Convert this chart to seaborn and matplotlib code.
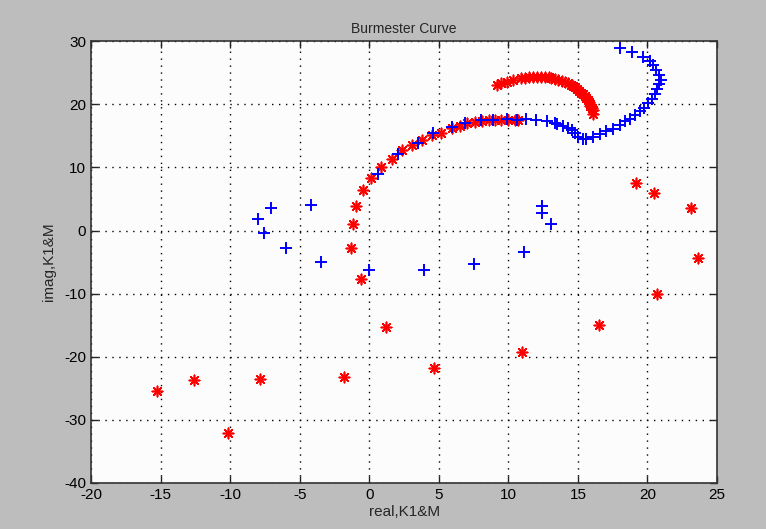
import matplotlib
matplotlib.use("Agg")
import matplotlib.pyplot as plt
import seaborn as sns
import pandas as pd

# Burmester curve points
red_x = [-1.2, -1.3, -0.6, 1.2, -15.3, -12.6, -7.85, -1.8, 4.66, -10.15, 11.0,
         19.2, 20.5, 23.1, 23.6, 20.7, 16.5,
         -0.97, -0.47, 0.13, 0.85, 1.66, 2.38, 3.1, 3.82, 4.54, 5.14, 5.93, 6.5,
         7.0, 7.6, 8.1, 8.6, 9.05, 9.5, 10.0, 10.5, 10.7,
         9.16, 9.5, 9.88, 10.36, 10.9, 11.2, 11.5, 11.8, 12.04, 12.35, 12.64, 12.9,
         13.1, 13.35, 13.6, 13.85, 14.1, 14.3, 14.5, 14.65, 14.8, 14.95, 15.1,
         15.25, 15.35, 15.5, 15.6, 15.7, 15.8, 15.85, 15.9, 16.0, 16.05, 16.1]
red_y = [1.0, -2.8, -7.7, -15.3, -25.4, -23.7, -23.5, -23.2, -21.8, -32.1, -19.2,
         7.5, 5.9, 3.5, -4.4, -10.1, -15.0,
         3.87, 6.4, 8.35, 10.0, 11.4, 12.7, 13.5, 14.3, 15.2, 15.5, 16.2, 16.6,
         17.0, 17.2, 17.4, 17.5, 17.5, 17.6, 17.6, 17.6, 17.6,
         23.1, 23.35, 23.55, 23.8, 24.1, 24.2, 24.3, 24.35, 24.4, 24.4, 24.4, 24.3,
         24.2, 24.05, 23.9, 23.75, 23.55, 23.35, 23.1, 22.9, 22.7, 22.4, 22.1,
         21.85, 21.6, 21.3, 21.0, 20.7, 20.4, 20.05, 19.7, 19.4, 19.1, 18.4]

blue_x = [-8.0, -7.1, -7.6, -6.0, -4.2, -3.5, 0.0, 3.9, 7.5, 11.1, 12.4, 12.4, 13.1,
          0.6, 2.05, 3.5, 4.6, 5.93, 6.9, 8.0, 8.9, 9.9, 10.6, 11.3, 12.0, 12.75,
          13.35, 13.5, 13.95, 14.3, 14.55, 14.8, 15.04, 15.35, 15.6, 16.06, 16.6,
          17.0, 17.5, 18.0, 18.4, 18.75, 19.1, 19.47, 19.75, 20.07, 20.3, 20.55,
          20.7, 20.85, 20.95, 20.8, 20.6, 20.4, 20.2, 19.7, 18.9, 18.0]
blue_y = [1.8, 3.5, -0.4, -2.8, 4.0, -5.0, -6.2, -6.3, -5.3, -3.4, 3.9, 2.8, 1.0,
          8.9, 12.1, 13.95, 15.4, 16.4, 17.1, 17.5, 17.6, 17.75, 17.6, 17.75, 17.6,
          17.4, 17.1, 16.85, 16.5, 16.3, 15.9, 15.4, 14.85, 14.5, 14.5, 14.85, 15.3,
          15.7, 16.1, 16.7, 17.3, 17.75, 18.3, 18.9, 19.5, 20.2, 20.9, 21.7, 22.5,
          23.3, 23.9, 24.7, 25.5, 26.3, 26.8, 27.5, 28.3, 29.0]

x_ticks = [-20, -15, -10, -5, 0, 5, 10, 15, 20, 25]
y_ticks = [-40, -30, -20, -10, 0, 10, 20, 30]

sns.set_style("ticks")
plt.rcParams["font.family"] = ["Liberation Sans", "DejaVu Sans"]
plt.rcParams["font.size"] = 11
plt.rcParams["axes.unicode_minus"] = False

df_red = pd.DataFrame({"x": red_x, "y": red_y})
df_blue = pd.DataFrame({"x": blue_x, "y": blue_y})

fig = plt.figure(figsize=(7.66, 5.29), dpi=100, facecolor="#bdbdbd")
ax = fig.add_axes([0.119, 0.087, 0.817, 0.835])
ax.set_facecolor("#fcfcfc")

sns.scatterplot(data=df_red, x="x", y="y", ax=ax, marker=(8, 2, 0), s=55,
                color="red", edgecolor="red", linewidth=1.2, zorder=3)
sns.scatterplot(data=df_blue, x="x", y="y", ax=ax, marker="+", s=75,
                color="blue", linewidth=1.4, zorder=4)

ax.set_xlim(-20, 25)
ax.set_ylim(-40, 30)
ax.set_xticks(x_ticks)
ax.set_yticks(y_ticks)
ax.grid(True, color="black", linestyle=(0, (1, 4)), linewidth=1.0)
ax.tick_params(direction="in", length=5, width=1, top=True, right=True,
               colors="#222222", labelcolor="black", labelsize=11)
for sp in ax.spines.values():
    sp.set_color("#333333")
    sp.set_linewidth(1.2)

ax.set_title("Burmester Curve", fontsize=10, pad=6)
ax.set_xlabel("real,K1&M", fontsize=11, labelpad=2)
ax.set_ylabel("imag,K1&M", fontsize=11, labelpad=6)

fig.savefig("out.png", dpi=100, facecolor=fig.get_facecolor())
